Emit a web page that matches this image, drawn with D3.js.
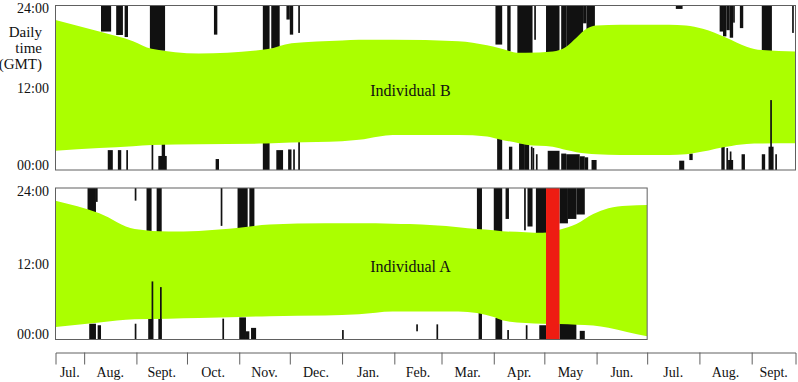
<!DOCTYPE html>
<html><head><meta charset="utf-8">
<script src="https://cdn.jsdelivr.net/npm/d3@7"></script>
<style>
body{margin:0;background:#fff}
svg{display:block}
text{font-family:"Liberation Serif","Times New Roman",serif;fill:#111}
</style>
</head><body>
<svg id="chart" width="798" height="382"></svg>
<script>
// ---------- DATA ----------
const startDate = "2012-07-15";
const endDate = "2013-09-27";
const monthTicks = ["2012-08-01","2012-09-01","2012-10-01","2012-11-01","2012-12-01","2013-01-01","2013-02-01","2013-03-01","2013-04-01","2013-05-01","2013-06-01","2013-07-01","2013-08-01","2013-09-01"];
const monthLabels = ["Jul.","Aug.","Sept.","Oct.","Nov.","Dec.","Jan.","Feb.","Mar.","Apr.","May","Jun.","Jul.","Aug.","Sept."];
const hourTicks = [0, 12, 24];
const hourLabels = ["00:00", "12:00", "24:00"];
const yTitle = ["Daily", "time", "(GMT)"];

// Individual B : night band (upper / lower edge in hours GMT)
const bandB_dates = ["2012-07-15","2012-08-10","2012-08-30","2012-09-10","2012-10-08","2012-11-17","2012-12-02","2013-01-01","2013-01-11","2013-01-23","2013-01-31","2013-03-11","2013-03-28","2013-04-04","2013-04-16","2013-04-20","2013-05-06","2013-05-14","2013-05-20","2013-05-26","2013-06-01","2013-06-15","2013-07-14","2013-07-24","2013-08-03","2013-08-17","2013-08-29","2013-09-07","2013-09-27"];
const bandB_upper = [21.9,20.2,18.8,17.7,17.0,17.6,18.5,18.9,19.0,19.0,19.0,18.8,18.2,17.8,17.1,17.1,17.3,18.0,19.3,20.6,21.1,21.2,21.2,21.1,20.6,19.3,18.0,17.5,17.3];
const bandB_lower = [2.8,3.2,3.45,3.65,3.75,3.85,4.0,4.2,4.4,4.9,5.1,5.1,4.9,4.5,3.9,3.7,3.4,2.9,2.6,2.4,2.3,2.2,2.2,2.3,2.7,3.4,3.8,3.85,3.9];

// Individual A
const bandA_dates = ["2012-07-15","2012-08-10","2012-08-31","2012-09-20","2012-10-08","2012-11-01","2012-11-19","2012-12-22","2013-01-11","2013-01-31","2013-02-10","2013-03-11","2013-03-22","2013-04-01","2013-04-06","2013-04-20","2013-04-30","2013-05-10","2013-05-20","2013-05-30","2013-06-08","2013-06-19","2013-07-01"];
const bandA_upper = [22.0,20.0,17.5,17.1,17.2,17.7,18.2,18.4,18.4,18.35,18.3,17.8,17.5,17.3,17.15,17.0,16.9,17.4,18.3,19.9,20.8,21.2,21.3];
const bandA_lower = [2.0,2.7,3.2,3.3,3.4,3.55,3.7,3.8,4.0,4.45,4.45,4.45,4.2,3.55,3.05,2.6,2.5,2.45,2.35,2.2,1.85,1.2,0.5];

// activity bars: [start, end, fromHour, toHour]
const barsB = [
 ["2012-08-11","2012-08-17",20.2,24],["2012-08-20","2012-08-24",19.7,24],["2012-08-25","2012-08-27",19.4,24],
 ["2012-09-09","2012-09-18",17.4,24],["2012-10-17","2012-10-19",19.75,24],["2012-11-15","2012-11-19",17.3,24],
 ["2012-11-20","2012-11-25",17.7,24],["2012-11-29","2012-12-01",21.95,24],["2012-12-01","2012-12-03",19.75,24],
 ["2012-12-06","2012-12-07",20.0,24],["2013-04-02","2013-04-06",18.3,24],["2013-04-09","2013-04-11",17.3,24],
 ["2013-04-15","2013-04-24",16.9,24],["2013-04-25","2013-04-26",19.0,24],["2013-05-02","2013-05-10",17.0,24],
 ["2013-05-11","2013-05-14",17.2,24],["2013-05-14","2013-05-24",17.5,24],["2013-05-24","2013-05-26",21.4,24],
 ["2013-05-26","2013-05-31",20.3,24],["2013-07-18","2013-07-22",23.5,24],["2013-08-13","2013-08-15",20.2,24],
 ["2013-08-15","2013-08-17",19.5,24],["2013-08-17","2013-08-19",20.4,24],["2013-08-19","2013-08-21",19.3,24],
 ["2013-08-21","2013-08-22",21.5,24],["2013-08-25","2013-08-27",20.7,24],["2013-09-07","2013-09-13",17.3,24],
 ["2013-09-25","2013-09-26",20.0,24],
 ["2012-08-15","2012-08-18",0,2.9],["2012-08-21","2012-08-23",0,2.9],["2012-08-26","2012-08-27",0,2.9],
 ["2012-09-10","2012-09-11",0,3.8],["2012-09-14","2012-09-19",0,2.05],["2012-09-16","2012-09-18",0,3.8],
 ["2012-10-18","2012-10-20",0,1.6],["2012-11-15","2012-11-19",0,4.0],["2012-11-23","2012-11-27",0,2.9],
 ["2012-11-30","2012-12-02",0,3.0],["2012-12-03","2012-12-04",0,3.0],["2012-12-06","2012-12-07",0,4.1],
 ["2013-04-03","2013-04-06",0,4.8],["2013-04-10","2013-04-12",0,3.4],["2013-04-16","2013-04-19",0,3.9],
 ["2013-04-19","2013-04-22",0,3.8],["2013-04-23","2013-04-24",0,3.4],["2013-04-24","2013-04-25",0,3.2],
 ["2013-04-26","2013-04-27",0,2.3],["2013-05-03","2013-05-10",0,2.8],["2013-05-11","2013-05-14",0,2.4],
 ["2013-05-14","2013-05-22",0,2.3],["2013-05-22","2013-05-25",0,2.0],["2013-05-25","2013-05-27",0,1.85],
 ["2013-05-29","2013-06-01",0,1.46],["2013-07-20","2013-07-23",0,1.36],["2013-07-26","2013-07-28",1.45,2.4],
 ["2013-08-14","2013-08-16",0,3.4],["2013-08-17","2013-08-18",0,3.2],["2013-08-18","2013-08-21",0,1.46],
 ["2013-08-19","2013-08-20",0,2.7],["2013-08-26","2013-08-28",0,2.3],["2013-09-07","2013-09-09",0,2.3],
 ["2013-09-11","2013-09-14",0,3.4],["2013-09-15","2013-09-16",0,2.3]
];
const spikesB = [["2013-09-12","2013-09-13",0,10.2]];

const barsA = [
 ["2012-08-03","2012-08-08",20.0,24],["2012-08-08","2012-08-09",21.8,24],["2012-08-31","2012-09-01",22.0,24],
 ["2012-09-07","2012-09-10",17.2,24],["2012-09-13","2012-09-16",17.0,24],["2012-10-21","2012-10-22",18.0,24],
 ["2012-10-31","2012-11-06",17.4,24],["2012-11-07","2012-11-10",17.6,24],["2013-03-22","2013-03-25",17.2,24],
 ["2013-04-01","2013-04-06",16.9,24],["2013-04-08","2013-04-10",19.1,24],["2013-04-19","2013-04-20",17.3,24],
 ["2013-04-21","2013-04-24",17.9,24],["2013-04-26","2013-05-02",16.7,24],["2013-05-10","2013-05-15",18.4,24],
 ["2013-05-15","2013-05-20",19.1,24],["2013-05-20","2013-05-25",19.8,24],
 ["2012-08-04","2012-08-08",0,2.5],["2012-08-09","2012-08-11",0,2.26],["2012-08-31","2012-09-01",0,2.5],
 ["2012-09-08","2012-09-11",0,3.3],["2012-09-14","2012-09-16",0,3.3],["2012-10-22","2012-10-23",0,3.3],
 ["2012-11-01","2012-11-05",0,3.5],["2012-11-05","2012-11-07",0,1.3],["2012-11-08","2012-11-11",0,1.84],
 ["2013-01-01","2013-01-02",0,1.5],["2013-02-14","2013-02-15",1.3,2.4],["2013-02-26","2013-02-27",0,2.4],
 ["2013-03-23","2013-03-25",0,4.3],["2013-04-02","2013-04-06",0,3.4],["2013-04-09","2013-04-10",0,1.5],
 ["2013-04-20","2013-04-21",0,2.26],["2013-04-28","2013-05-02",0,2.26],["2013-05-10","2013-05-20",0,2.5],
 ["2013-05-22","2013-05-25",0,1.37]
];
const spikesA = [["2012-09-10","2012-09-11",0,9.2],["2012-09-15","2012-09-16",0,8.3]];
const redPeriodA = ["2013-05-02","2013-05-10"];

// ---------- DRAW ----------
const parse = d3.timeParse("%Y-%m-%d");
const svg = d3.select("#chart");
const x = d3.scaleTime().domain([parse(startDate), parse(endDate)]).range([55.5, 795.5]);

const GREEN = "#abff00", RED = "#ee1c12", BLACK = "#111";

const panels = [
  {id:"B", label:"Individual B", yr:[170, 5.5], end:endDate,
   dates:bandB_dates, up:bandB_upper, lo:bandB_lower, bars:barsB, spikes:spikesB, red:null},
  {id:"A", label:"Individual A", yr:[339.5, 188], end:bandA_dates[bandA_dates.length-1],
   dates:bandA_dates, up:bandA_upper, lo:bandA_lower, bars:barsA, spikes:spikesA, red:redPeriodA}
];

panels.forEach(p => {
  const y = d3.scaleLinear().domain([0, 24]).range(p.yr);
  const x0 = x(parse(startDate)), x1 = x(parse(p.end));
  const top = p.yr[1], bot = p.yr[0];
  const g = svg.append("g");
  g.append("clipPath").attr("id", "clip" + p.id)
    .append("rect").attr("x", x0).attr("y", top).attr("width", x1 - x0).attr("height", bot - top);
  const inner = g.append("g").attr("clip-path", `url(#clip${p.id})`);

  const drawBars = (data) => inner.append("g").selectAll("rect").data(data).join("rect")
    .attr("x", d => x(parse(d[0])))
    .attr("width", d => Math.max(1, x(parse(d[1])) - x(parse(d[0]))))
    .attr("y", d => y(d[3]))
    .attr("height", d => y(d[2]) - y(d[3]))
    .attr("fill", BLACK);

  drawBars(p.bars);

  const band = p.dates.map((d, i) => ({date: parse(d), up: p.up[i], lo: p.lo[i]}));
  const area = d3.area().x(d => x(d.date)).y0(d => y(d.lo)).y1(d => y(d.up)).curve(d3.curveMonotoneX);
  inner.append("path").datum(band).attr("d", area).attr("fill", GREEN);

  drawBars(p.spikes);

  if (p.red) {
    inner.append("rect")
      .attr("x", x(parse(p.red[0]))).attr("width", x(parse(p.red[1])) - x(parse(p.red[0])))
      .attr("y", top).attr("height", bot - top).attr("fill", RED);
  }

  g.append("rect").attr("x", x0).attr("y", top).attr("width", x1 - x0).attr("height", bot - top)
    .attr("fill", "none").attr("stroke", "#606060").attr("stroke-width", 1);

  g.append("text").attr("x", 410.5).attr("y", y(12) + 8).attr("text-anchor", "middle")
    .attr("font-size", 16).text(p.label);

  g.selectAll("text.hl").data(hourTicks).join("text").attr("class", "hl")
    .attr("x", 49).attr("text-anchor", "end").attr("font-size", 14)
    .attr("y", h => Math.min(bot - 0.5, Math.max(top + 7.5, y(h) + 5.5)))
    .text((h, i) => hourLabels[i]);
});

// y title
svg.append("g").selectAll("text").data(yTitle).join("text")
  .attr("x", 42).attr("y", (d, i) => 37 + i * 16).attr("text-anchor", "end")
  .attr("font-size", 15).text(d => d);

// month axis
const ticks = monthTicks.map(parse);
const axis = d3.axisBottom(x).tickValues(ticks).tickSizeInner(12).tickSizeOuter(12).tickFormat("");
const ag = svg.append("g").attr("transform", "translate(0,352.5)").call(axis);
ag.selectAll("path,line").attr("stroke", "#606060").attr("stroke-width", 1);

const bounds = [parse(startDate), ...ticks, parse(endDate)];
svg.append("g").selectAll("text").data(monthLabels).join("text")
  .attr("x", (d, i) => (x(bounds[i]) + x(bounds[i + 1])) / 2)
  .attr("y", 377).attr("text-anchor", "middle").attr("font-size", 14).text(d => d);
</script>
</body></html>
